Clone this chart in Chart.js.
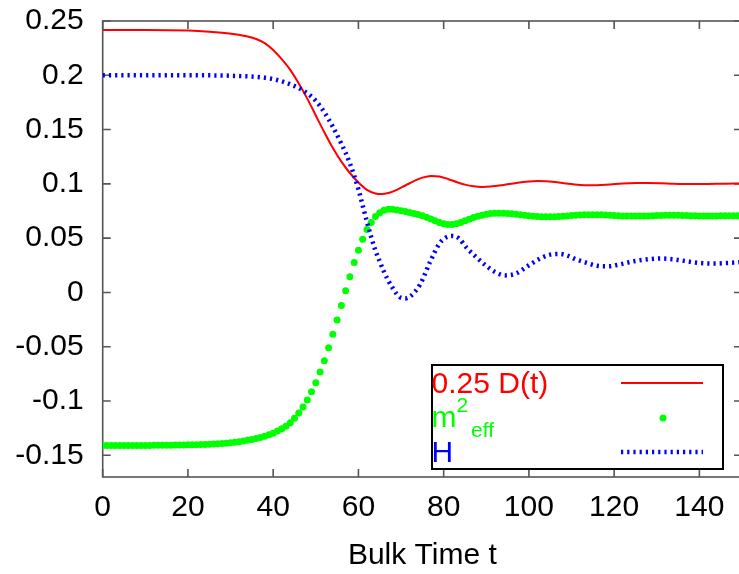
<!DOCTYPE html>
<html>
<head>
<meta charset="utf-8">
<script src="https://cdn.jsdelivr.net/npm/chart.js@4.4.1/dist/chart.umd.min.js"></script>
<style>
html,body{margin:0;padding:0;background:#fff;overflow:hidden;}
canvas{display:block;}
</style>
</head>
<body>
<canvas id="c" width="750" height="574" style="width:750px;height:574px"></canvas>
<script>
// ---- data ----
const xTickValues = [0, 20, 40, 60, 80, 100, 120, 140];
const yTickValues = [0.25, 0.2, 0.15, 0.1, 0.05, 0, -0.05, -0.1, -0.15];

const dTimes = [0,10,20,25,28,31,34,36,38,40,42,44,46,48,50,52,54,56,58,60,62,64,65.5,67,69,71,73,75,77,79,81,83,85,87,89,91,94,97,100,102,104,107,110,113,116,119,122,125,128,131,134,138,142,146,150];
const dValues = [0.2417,0.2417,0.2412,0.2402,0.2392,0.2378,0.2357,0.2334,0.2296,0.2232,0.2148,0.2050,0.1925,0.1785,0.1630,0.1475,0.1330,0.1205,0.1100,0.1012,0.0945,0.0912,0.0906,0.0915,0.0945,0.0985,0.1025,0.1057,0.1073,0.1068,0.1045,0.1017,0.0993,0.0978,0.0972,0.0975,0.0990,0.1008,0.1022,0.1027,0.1025,0.1012,0.0998,0.0988,0.0988,0.0995,0.1003,0.1008,0.1009,0.1006,0.1001,0.0998,0.0999,0.1002,0.1003];

const hTimes = [0,10,20,28,32,35,38,40,42,44,46,48,50,52,54,56,58,60,61,62,63,64,65,66,67,68,69,70,71,72,73,74.5,76.8,79,80.5,82,83.5,85.4,87.8,90,92,94.5,97,100,103,105,107,109,111,113.6,116,118.5,121,124.6,128,131,134,137,140,143.3,146,150];
const hValues = [0.2000,0.2000,0.2000,0.1998,0.1993,0.1988,0.1978,0.1965,0.1945,0.1917,0.1883,0.1835,0.1765,0.1660,0.1525,0.1370,0.1190,0.0950,0.0800,0.0650,0.0510,0.0385,0.0285,0.0190,0.0110,0.0043,-0.0015,-0.0050,-0.0055,-0.0040,-0.0005,0.0075,0.0280,0.0450,0.0505,0.0520,0.0500,0.0410,0.0320,0.0245,0.0190,0.0157,0.0175,0.0250,0.0320,0.0348,0.0355,0.0340,0.0305,0.0272,0.0245,0.0240,0.0255,0.0287,0.0305,0.0312,0.0305,0.0287,0.0272,0.0266,0.0270,0.0280];

// m^2_eff sampled at t = 0,1,2,...,150
const mEffValues = [
-0.1410,-0.1410,-0.1410,-0.1410,-0.1410,-0.1410,-0.1410,-0.1410,-0.1409,-0.1409,
-0.1409,-0.1409,-0.1408,-0.1408,-0.1408,-0.1407,-0.1407,-0.1406,-0.1406,-0.1405,
-0.1404,-0.1403,-0.1402,-0.1401,-0.1400,-0.1398,-0.1396,-0.1394,-0.1391,-0.1388,
-0.1384,-0.1380,-0.1375,-0.1369,-0.1362,-0.1355,-0.1346,-0.1336,-0.1324,-0.1310,
-0.1296,-0.1276,-0.1255,-0.1232,-0.1200,-0.1158,-0.1110,-0.1055,-0.0990,-0.0915,
-0.0833,-0.0734,-0.0630,-0.0510,-0.0386,-0.0253,-0.0120,0.0016,0.0145,0.0275,
0.0389,0.0490,0.0580,0.0645,0.0700,0.0735,0.0757,0.0765,0.0765,0.0760,
0.0752,0.0745,0.0737,0.0728,0.0718,0.0706,0.0692,0.0677,0.0660,0.0645,
0.0632,0.0625,0.0625,0.0632,0.0645,0.0660,0.0675,0.0690,0.0702,0.0712,
0.0720,0.0726,0.0729,0.0730,0.0729,0.0727,0.0724,0.0720,0.0716,0.0711,
0.0706,0.0702,0.0699,0.0697,0.0696,0.0696,0.0697,0.0699,0.0702,0.0705,
0.0708,0.0711,0.0713,0.0715,0.0716,0.0716,0.0716,0.0715,0.0713,0.0711,
0.0709,0.0707,0.0705,0.0704,0.0703,0.0703,0.0703,0.0704,0.0705,0.0706,
0.0708,0.0709,0.0710,0.0710,0.0710,0.0710,0.0709,0.0708,0.0707,0.0706,
0.0705,0.0705,0.0705,0.0705,0.0705,0.0706,0.0706,0.0707,0.0707,0.0707,
0.0707];

const legendLabels = ['0.25 D(t)', 'm', 'H'];
const xTitle = 'Bulk Time t';

// ---- styling ----
const RED = '#ff0000', GREEN = '#00ff00', BLUE = '#0000ff';
const FONT = '"Liberation Sans", Arial, sans-serif';
const FRAME = '#555555';
const BLUE_DASH = [2.2, 4.0];

const redData = dTimes.map((t, i) => ({x: t, y: dValues[i]}));
const blueData = hTimes.map((t, i) => ({x: t, y: hValues[i]}));
const greenData = mEffValues.map((v, i) => ({x: i, y: v}));

const framePlugin = {
  id: 'frame',
  beforeDatasetsDraw(chart) {
    const {ctx, chartArea: a, scales} = chart;
    ctx.save();
    ctx.strokeStyle = FRAME;
    ctx.lineWidth = 1.6;
    ctx.strokeRect(a.left, a.top, a.right - a.left, a.bottom - a.top);
    const L = 8;
    ctx.beginPath();
    scales.x.ticks.forEach(t => {
      const px = scales.x.getPixelForValue(t.value);
      ctx.moveTo(px, a.bottom); ctx.lineTo(px, a.bottom - L);
      ctx.moveTo(px, a.top); ctx.lineTo(px, a.top + L);
    });
    scales.y.ticks.forEach(t => {
      const py = scales.y.getPixelForValue(t.value);
      ctx.moveTo(a.left, py); ctx.lineTo(a.left + L, py);
      ctx.moveTo(a.right, py); ctx.lineTo(a.right - L, py);
    });
    ctx.stroke();
    ctx.restore();
  }
};

const legendPlugin = {
  id: 'gpLegend',
  afterDraw(chart) {
    const {ctx} = chart;
    ctx.save();
    ctx.fillStyle = '#ffffff';
    ctx.fillRect(432, 365, 291, 104);
    ctx.strokeStyle = '#000000';
    ctx.lineWidth = 2;
    ctx.strokeRect(432, 365, 291, 104);
    ctx.textBaseline = 'alphabetic';
    ctx.textAlign = 'left';
    ctx.font = '30px ' + FONT;
    ctx.fillStyle = RED;
    ctx.fillText(legendLabels[0], 431.5, 393);
    ctx.strokeStyle = RED; ctx.lineWidth = 2;
    ctx.beginPath(); ctx.moveTo(621, 383); ctx.lineTo(703, 383); ctx.stroke();
    ctx.fillStyle = GREEN;
    ctx.font = '30px ' + FONT;
    ctx.fillText(legendLabels[1], 431.5, 427);
    const mw = ctx.measureText(legendLabels[1]).width;
    ctx.font = '21px ' + FONT;
    ctx.fillText('2', 431.5 + mw, 412);
    ctx.fillText('eff', 471, 437);
    ctx.beginPath(); ctx.arc(663, 418, 3.5, 0, Math.PI * 2); ctx.fill();
    ctx.font = '30px ' + FONT;
    ctx.fillStyle = BLUE;
    ctx.fillText(legendLabels[2], 431.5, 462);
    ctx.strokeStyle = BLUE; ctx.lineWidth = 4.5; ctx.setLineDash(BLUE_DASH); ctx.lineCap = 'butt';
    ctx.beginPath(); ctx.moveTo(621, 452); ctx.lineTo(703, 452); ctx.stroke();
    ctx.restore();
  }
};

function zeroPad(s) { s.paddingTop = 0; s.paddingBottom = 0; s.paddingLeft = 0; s.paddingRight = 0; }

new Chart(document.getElementById('c'), {
  type: 'line',
  data: {
    datasets: [
      {label: '0.25 D(t)', data: redData, borderColor: RED, borderWidth: 2, pointRadius: 0, cubicInterpolationMode: 'monotone', fill: false, order: 3},
      {label: 'm2eff', data: greenData, showLine: false, pointRadius: 3.5, pointBorderWidth: 0, pointBackgroundColor: GREEN, borderColor: GREEN, order: 2},
      {label: 'H', data: blueData, borderColor: BLUE, borderWidth: 4.5, borderDash: BLUE_DASH, borderCapStyle: 'butt', pointRadius: 0, cubicInterpolationMode: 'monotone', fill: false, order: 1}
    ]
  },
  options: {
    responsive: false,
    animation: false,
    events: [],
    layout: {padding: {top: 21, right: 8, left: 0, bottom: 0}},
    plugins: {legend: {display: false}, tooltip: {enabled: false}},
    scales: {
      x: {
        type: 'linear', min: 0, max: 150,
        grid: {display: false, drawTicks: false},
        border: {display: false},
        ticks: {autoSkip: false, maxRotation: 0, padding: 13, color: '#000', font: {family: FONT, size: 30}},
        afterBuildTicks(s) { s.ticks = xTickValues.map(v => ({value: v})); },
        afterFit(s) { s.height = 97; zeroPad(s); },
        title: {display: true, text: xTitle, color: '#000', font: {family: FONT, size: 30}, padding: {top: 0, bottom: 0}}
      },
      y: {
        type: 'linear', min: -0.17, max: 0.25,
        grid: {display: false, drawTicks: false},
        border: {display: false},
        ticks: {autoSkip: false, padding: 19, color: '#000', font: {family: FONT, size: 30},
          callback: v => String(Math.round(v * 100) / 100)},
        afterBuildTicks(s) { s.ticks = yTickValues.map(v => ({value: v})); },
        afterFit(s) { s.width = 102.7; zeroPad(s); }
      }
    }
  },
  plugins: [framePlugin, legendPlugin]
});
</script>
</body>
</html>
